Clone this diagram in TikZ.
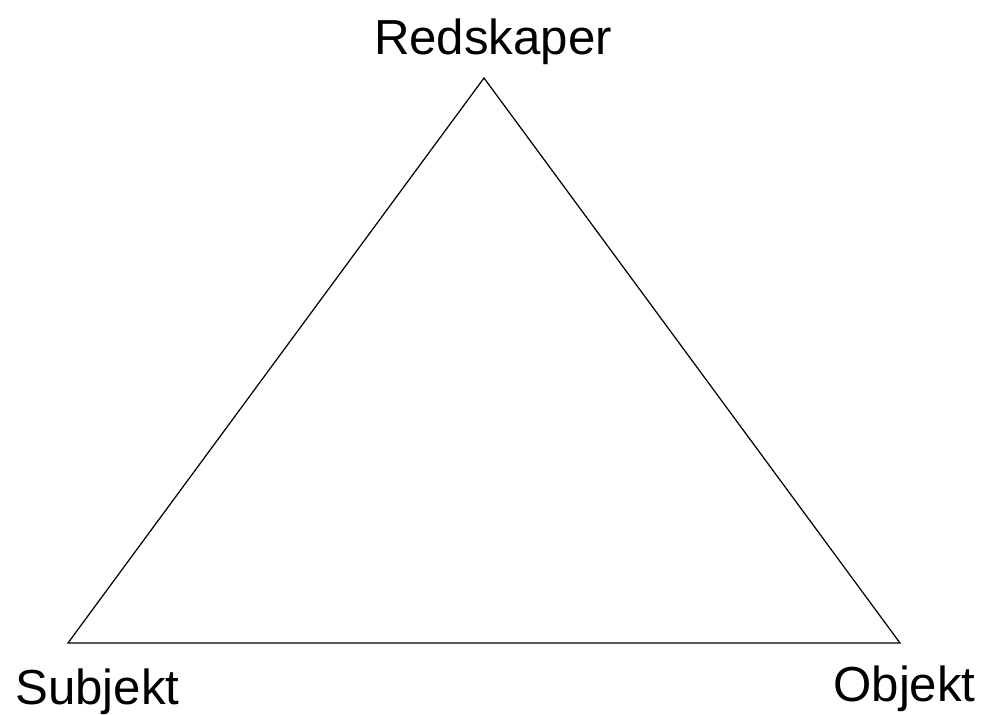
\documentclass[tikz,border=0pt]{standalone}
\usepackage{fontspec}
\setmainfont{Liberation Sans}
\usetikzlibrary{positioning, calc}

\begin{document}
\begin{tikzpicture}[
  lbl/.style  = {inner sep=0pt, font=\fontsize{28}{32}\selectfont},
  edge/.style = {line width=0.7pt, line join=miter},
]
\useasboundingbox (0,0) rectangle (19.72,14.3);
% ── Corners of the triangle ──────────────────────────────────────────────────
\coordinate (top)   at (9.68,12.74);
\coordinate (left)  at (1.36,1.44);
\coordinate (right) at (18.0,1.44);

\draw[edge] (top) -- (left) -- (right) -- cycle;

% ── Labels ───────────────────────────────────────────────────────────────────
\node[lbl, anchor=base]      (redskaper) at (9.86,13.2)  {Redskaper};
\node[lbl, anchor=base west] (subjekt)   at (0.30,0.20)  {Subjekt};
\node[lbl, anchor=base west] (objekt)    at (16.66,0.26) {Objekt};
\end{tikzpicture}
\end{document}
